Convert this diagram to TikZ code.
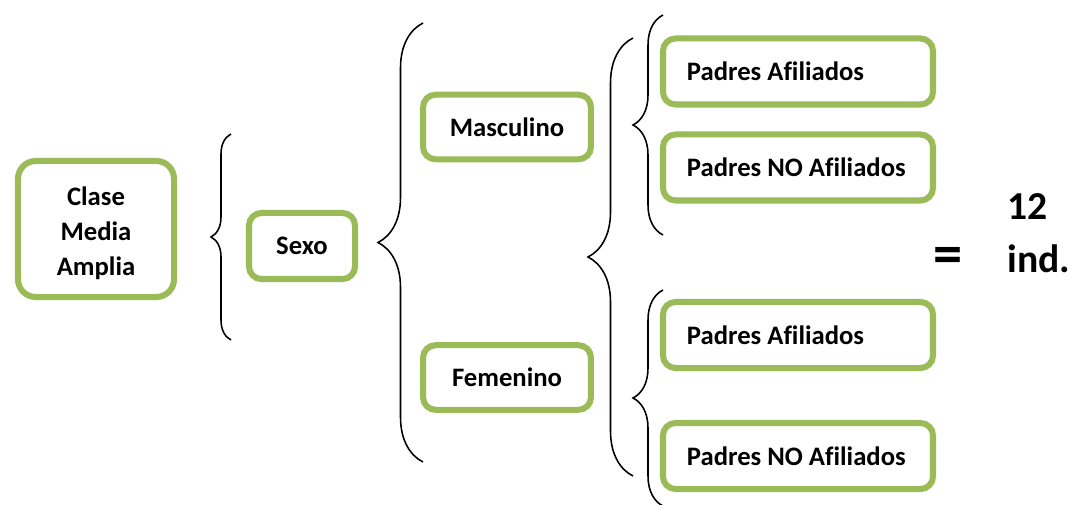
\documentclass[tikz,border=0pt]{standalone}
\usepackage{fontspec}
\setmainfont[Ligatures=NoCommon]{Carlito}
\usetikzlibrary{decorations.pathreplacing,positioning}
\definecolor{boxgreen}{RGB}{155,187,89}
\newcommand\leaftext[1]{\makebox[106.6pt][l]{#1}}
\tikzset{
        block/.style = {draw=boxgreen, line width=2.9pt, rounded corners=6pt,
            fill=white, inner sep=0pt, align=center,
            font=\bfseries\fontsize{12.8}{16.8}\selectfont},
        bigblock/.style = {block, rounded corners=8.5pt,
            minimum width=74.9pt, minimum height=65.3pt},
        midblock/.style = {block, minimum width=80.6pt, minimum height=31pt},
        leafblock/.style = {block, inner xsep=11.5pt,
            minimum width=129.6pt, minimum height=31.7pt},
        curly/.style = {draw, line width=0.75pt, decorate,
            decoration={brace, amplitude=#1}},
        result/.style = {font=\bfseries\fontsize{19}{22}\selectfont, inner sep=0pt},
    }

\begin{document}
\begin{tikzpicture}[x=0.48pt, y=-0.48pt]
  \useasboundingbox (0,0) rectangle (1068,505);

  % boxes
  \node[bigblock] (clase) at (96,229) {\rule{0pt}{13.5pt}Clase\\Media\\Amplia};
  \node[block, minimum width=50.9pt, minimum height=31.7pt] (sexo) at (302,246) {Sexo};
  \node[midblock] (masc) at (507,127) {Masculino};
  \node[midblock] (fem) at (507,377.5) {Femenino};
  \node[leafblock] (pa1) at (798,71.5) {\leaftext{Padres Afiliados}};
  \node[leafblock] (pn1) at (798,167.5) {\leaftext{Padres NO Afiliados}};
  \node[leafblock] (pa2) at (798,335) {\leaftext{Padres Afiliados}};
  \node[leafblock] (pn2) at (798,456) {\leaftext{Padres NO Afiliados}};

  % brace ends
  \coordinate (s1t) at (231,134);
  \coordinate (s1b) at (231,340);
  \coordinate (s2t) at (423,23);
  \coordinate (s2b) at (423,462);
  \coordinate (s3t) at (633,38);
  \coordinate (s3b) at (633,476);
  \coordinate (s4t) at (663,15);
  \coordinate (s4b) at (663,235);
  \coordinate (s5t) at (663,290);
  \coordinate (s5b) at (663,506);

  \draw[curly=9.6pt] (s1b) -- (s1t);
  \draw[curly=21.6pt] (s2b) -- (s2t);
  \draw[curly=21.6pt] (s3b) -- (s3t);
  \draw[curly=14.4pt] (s4b) -- (s4t);
  \draw[curly=14.4pt] (s5b) -- (s5t);

  % total
  \node[font=\bfseries\fontsize{28}{30}\selectfont, inner sep=0pt] (eq) at (948,260) {=};
  \node[result, anchor=base west] (num) at (1007,220) {12};
  \node[result, anchor=base west] (ind) at (1007,273) {ind.};
\end{tikzpicture}
\end{document}
